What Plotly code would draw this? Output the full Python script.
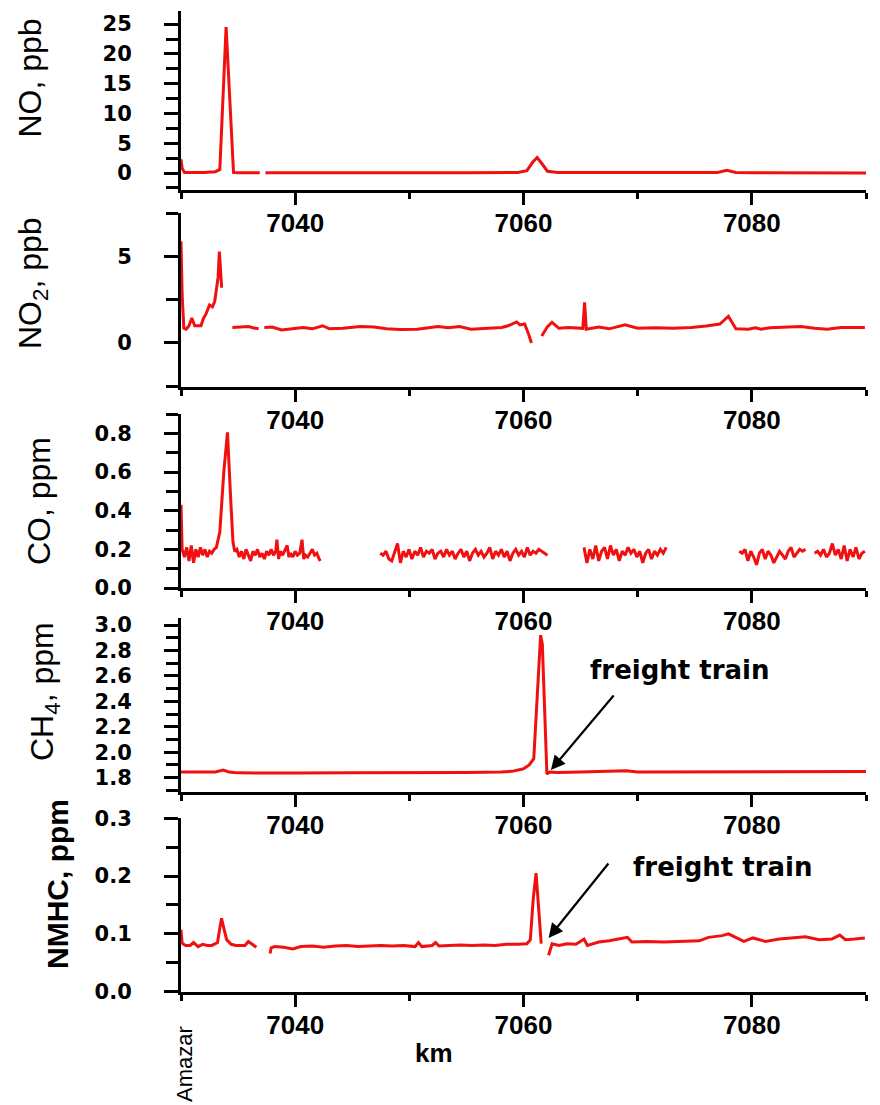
import numpy as np
import plotly.graph_objects as go

W, H = 880, 1105

# ---------------- data (km along the railway) ----------------
# NO, ppb
no_km_a = [7030.0, 7030.1, 7030.3, 7031.0, 7032.0, 7033.0, 7033.4, 7033.95, 7034.6, 7035.0, 7036.0, 7036.9]
no_val_a = [2.3, 0.8, 0.1, 0.05, 0.1, 0.2, 0.6, 24.5, 0.1, 0.05, 0.05, 0.05]
no_km_b = [7037.4, 7045.0, 7055.0, 7059.5, 7060.3, 7060.8, 7061.2, 7061.6, 7062.1, 7063.0,
           7070.0, 7077.0, 7077.8, 7078.6, 7080.0, 7090.0]
no_val_b = [0.05, 0.0, 0.05, 0.1, 0.4, 1.8, 2.6, 1.6, 0.3, 0.1, 0.05, 0.1, 0.45, 0.1, 0.05, 0.02]

# NO2, ppb
no2_km_a = [7030.0, 7030.1, 7030.25, 7030.45, 7030.7, 7030.95, 7031.2, 7031.5, 7031.75, 7031.95,
            7032.2, 7032.5, 7032.75, 7032.95, 7033.1, 7033.25, 7033.36, 7033.42, 7033.56]
no2_val_a = [5.9, 2.8, 0.85, 0.8, 1.0, 1.45, 1.0, 1.0, 1.0, 1.4,
             1.7, 2.2, 2.1, 2.4, 3.1, 3.8, 5.3, 4.4, 3.2]
no2_km_b = [7034.5, 7035.0, 7035.5, 7035.9, 7036.3, 7036.8]
no2_val_b = [0.9, 0.92, 0.9, 0.95, 0.88, 0.82]
no2_km_c = [7037.3, 7038.0, 7038.8, 7039.5, 7040.7, 7041.5, 7042.4, 7043.0, 7044.2, 7045.7,
            7046.9, 7048.0, 7049.2, 7050.7, 7051.5, 7052.5, 7053.4, 7054.4, 7055.4, 7056.9,
            7058.1, 7058.65, 7059.4, 7059.7, 7060.1, 7060.4, 7060.7]
no2_val_c = [0.9, 0.92, 0.75, 0.82, 0.9, 0.82, 1.0, 0.82, 0.85, 0.95,
             0.92, 0.82, 0.78, 0.8, 0.85, 0.95, 0.88, 0.95, 0.8, 0.85,
             0.9, 1.0, 1.22, 1.05, 1.1, 0.6, 0.0]
no2_km_d = [7061.6, 7062.1, 7062.5, 7063.1, 7063.9, 7064.8, 7065.2, 7065.35, 7065.5, 7066.6,
            7067.5, 7068.9, 7070.0, 7071.6, 7073.1, 7074.7, 7076.0, 7077.2, 7077.95, 7078.6,
            7079.7, 7080.3, 7080.8, 7081.6, 7083.2, 7084.3, 7085.5, 7086.6, 7087.8, 7089.0, 7089.9]
no2_val_d = [0.4, 0.95, 1.2, 0.85, 0.9, 0.85, 0.85, 2.35, 0.8, 0.92,
             0.82, 1.05, 0.85, 0.88, 0.85, 0.9, 0.98, 1.1, 1.55, 0.82,
             0.8, 0.88, 0.8, 0.88, 0.9, 0.95, 0.85, 0.8, 0.9, 0.88, 0.9]

# CO, ppm
co_km_1 = [7030.0, 7030.1, 7030.3, 7030.5, 7030.7, 7030.9, 7031.1, 7031.3, 7031.5, 7031.7,
           7031.9, 7032.1, 7032.3, 7032.5, 7032.7, 7032.9, 7033.1, 7033.4, 7033.75, 7034.07,
           7034.36, 7034.55, 7034.7, 7034.9, 7035.1, 7035.3, 7035.5, 7035.7, 7035.9, 7036.1,
           7036.3, 7036.5, 7036.7, 7036.9, 7037.1, 7037.3, 7037.5, 7037.7, 7037.9, 7038.1,
           7038.3, 7038.4, 7038.55, 7038.7, 7038.9, 7039.1, 7039.3, 7039.45, 7039.6, 7039.8,
           7040.0, 7040.2, 7040.4, 7040.6, 7040.75, 7040.9, 7041.1, 7041.3, 7041.5, 7041.7,
           7041.9, 7042.1, 7042.2]
co_val_1 = [0.43, 0.2, 0.16, 0.21, 0.14, 0.22, 0.13, 0.2, 0.16, 0.21,
            0.17, 0.2, 0.16, 0.19, 0.18, 0.2, 0.21, 0.29, 0.6, 0.805,
            0.45, 0.24, 0.19, 0.2, 0.16, 0.19, 0.15, 0.2, 0.17, 0.14,
            0.19, 0.17, 0.2, 0.16, 0.18, 0.15, 0.19, 0.17, 0.2, 0.17,
            0.19, 0.25, 0.15, 0.19, 0.17, 0.2, 0.22, 0.16, 0.18, 0.16,
            0.19, 0.17, 0.18, 0.25, 0.15, 0.17, 0.16, 0.18, 0.2, 0.17,
            0.18, 0.15, 0.14]
co_seg2_span = (7047.45, 7062.1)
co_val_2 = [0.18, 0.17, 0.19, 0.15, 0.14, 0.18, 0.23, 0.13, 0.19, 0.16,
            0.2, 0.15, 0.19, 0.17, 0.21, 0.16, 0.19, 0.18, 0.2, 0.15,
            0.18, 0.19, 0.16, 0.2, 0.17, 0.19, 0.15, 0.18, 0.2, 0.16,
            0.19, 0.14, 0.18, 0.2, 0.17, 0.19, 0.16, 0.18, 0.21, 0.15,
            0.19, 0.17, 0.2, 0.16, 0.19, 0.14, 0.18, 0.2, 0.17, 0.19,
            0.16, 0.21, 0.17, 0.19, 0.18, 0.2, 0.19, 0.18, 0.17]
co_seg3_span = (7065.3, 7072.5)
co_val_3 = [0.21, 0.13, 0.2, 0.15, 0.22, 0.14, 0.19, 0.21, 0.15, 0.22,
            0.17, 0.2, 0.14, 0.19, 0.17, 0.21, 0.18, 0.2, 0.16, 0.19,
            0.13, 0.18, 0.2, 0.15, 0.19, 0.17, 0.2, 0.18, 0.21]
co_seg4_span = (7078.9, 7084.7)
co_val_4 = [0.19, 0.18, 0.2, 0.14, 0.19, 0.16, 0.12, 0.18, 0.2, 0.15,
            0.19, 0.17, 0.13, 0.16, 0.19, 0.17, 0.15, 0.19, 0.21, 0.16,
            0.18, 0.2, 0.19, 0.2]
co_seg5_span = (7085.5, 7089.9)
co_val_5 = [0.18, 0.19, 0.17, 0.2, 0.16, 0.18, 0.23, 0.17, 0.2, 0.15,
            0.22, 0.14, 0.2, 0.16, 0.21, 0.15, 0.18, 0.19]

# CH4, ppm
ch4_km = [7030.0, 7031.0, 7032.0, 7033.0, 7033.7, 7034.2, 7035.0, 7037.0, 7040.0, 7045.0,
          7050.0, 7055.0, 7058.0, 7059.0, 7060.0, 7060.5, 7060.9, 7061.3, 7061.5, 7061.65,
          7061.85, 7062.05, 7062.3, 7063.0, 7065.0, 7069.0, 7070.0, 7075.0, 7080.0, 7085.0, 7090.0]
ch4_val = [1.845, 1.845, 1.842, 1.845, 1.86, 1.845, 1.838, 1.835, 1.836, 1.838,
           1.837, 1.84, 1.845, 1.85, 1.87, 1.9, 1.95, 2.6, 2.92, 2.85,
           2.3, 1.83, 1.845, 1.84, 1.845, 1.855, 1.845, 1.845, 1.848, 1.848, 1.848]

# NMHC, ppm
nmhc_km_1 = [7030.0, 7030.1, 7030.4, 7030.8, 7031.1, 7031.5, 7031.9, 7032.3, 7032.7, 7033.2,
             7033.4, 7033.55, 7033.75, 7034.0, 7034.4, 7034.8, 7035.3, 7035.6, 7035.9, 7036.2, 7036.6]
nmhc_val_1 = [0.107, 0.084, 0.08, 0.08, 0.085, 0.078, 0.082, 0.08, 0.08, 0.085,
              0.11, 0.127, 0.11, 0.09, 0.082, 0.08, 0.08, 0.08, 0.087, 0.083, 0.077]
nmhc_km_2 = [7037.8, 7037.9, 7038.2, 7039.0, 7039.8, 7040.5, 7041.5, 7042.5, 7043.5, 7044.5,
             7045.5, 7046.5, 7047.5, 7048.5, 7049.5, 7050.5, 7050.8, 7051.1, 7052.0, 7052.3,
             7052.6, 7053.5, 7054.5, 7055.5, 7056.5, 7057.5, 7058.5, 7059.5, 7060.3, 7060.6,
             7060.85, 7061.1, 7061.3, 7061.55]
nmhc_val_2 = [0.066, 0.076, 0.078, 0.077, 0.074, 0.078, 0.079, 0.077, 0.079, 0.08,
              0.078, 0.079, 0.08, 0.079, 0.08, 0.078, 0.085, 0.078, 0.08, 0.085,
              0.079, 0.08, 0.081, 0.08, 0.081, 0.08, 0.082, 0.082, 0.083, 0.09,
              0.16, 0.205, 0.15, 0.083]
nmhc_km_3 = [7062.2, 7062.5, 7063.1, 7063.8, 7064.6, 7065.3, 7065.6, 7066.6, 7067.5, 7069.1,
             7069.5, 7070.8, 7072.3, 7073.9, 7075.4, 7076.2, 7077.4, 7077.95, 7078.5, 7079.3,
             7080.1, 7081.2, 7082.4, 7083.9, 7084.7, 7085.9, 7087.0, 7087.7, 7088.2, 7089.0, 7089.9]
nmhc_val_3 = [0.063, 0.083, 0.08, 0.083, 0.082, 0.091, 0.08, 0.086, 0.088, 0.094,
              0.086, 0.087, 0.086, 0.087, 0.088, 0.094, 0.097, 0.1, 0.095, 0.087,
              0.093, 0.087, 0.091, 0.094, 0.095, 0.09, 0.091, 0.098, 0.09, 0.091, 0.093]

x_tickvals = [7040, 7060, 7080]
x_range = [7030, 7090]

RED = "#f01010"


def join(segments):
    xs, ys = [], []
    for i, (sx, sy) in enumerate(segments):
        if i:
            xs.append(None)
            ys.append(None)
        xs.extend(list(sx))
        ys.extend(list(sy))
    return xs, ys


def span(s, vals):
    return np.linspace(s[0], s[1], len(vals)).tolist()


series = [
    join([(no_km_a, no_val_a), (no_km_b, no_val_b)]),
    join([(no2_km_a, no2_val_a), (no2_km_b, no2_val_b), (no2_km_c, no2_val_c), (no2_km_d, no2_val_d)]),
    join([(co_km_1, co_val_1), (span(co_seg2_span, co_val_2), co_val_2),
          (span(co_seg3_span, co_val_3), co_val_3), (span(co_seg4_span, co_val_4), co_val_4),
          (span(co_seg5_span, co_val_5), co_val_5)]),
    join([(ch4_km, ch4_val)]),
    join([(nmhc_km_1, nmhc_val_1), (nmhc_km_2, nmhc_val_2), (nmhc_km_3, nmhc_val_3)]),
]

fig = go.Figure()
for i, (xs, ys) in enumerate(series, start=1):
    fig.add_trace(go.Scatter(x=xs, y=ys, mode="lines", xaxis=f"x{i}", yaxis=f"y{i}",
                             line=dict(color=RED, width=3), connectgaps=False,
                             showlegend=False, hoverinfo="skip"))

# panel pixel extents (top, bottom) of each plot area
panels_px = [(11, 190), (212.7, 387), (414, 588), (618, 791.7), (818, 991.7)]
x_px = (181, 866)

y_specs = [
    dict(range=[-2.85, 27.2], dtick=5, tick0=0, minor=2.5, fmt=None),
    dict(range=[-2.55, 7.55], dtick=5, tick0=0, minor=2.5, fmt=None),
    dict(range=[0, 0.9], dtick=0.2, tick0=0, minor=0.1, fmt=".1f"),
    dict(range=[1.69, 3.055], dtick=0.2, tick0=1.8, minor=0.1, fmt=".1f"),
    dict(range=[0, 0.3005], dtick=0.1, tick0=0, minor=0.05, fmt=".1f"),
]

tick_font_y = dict(family="DejaVu Sans", size=21, color="black", weight="bold")
tick_font_x = dict(family="Liberation Sans, Arial", size=26, color="black", weight="bold")

layout = dict(width=W, height=H, margin=dict(l=0, r=0, t=0, b=0),
              paper_bgcolor="white", plot_bgcolor="white", template="none",
              showlegend=False)

for i, (top, bot) in enumerate(panels_px, start=1):
    spec = y_specs[i - 1]
    sfx = "" if i == 1 else str(i)
    layout[f"xaxis{sfx}"] = dict(
        domain=[x_px[0] / W, x_px[1] / W], anchor=f"y{i}", range=x_range,
        tickmode="array", tickvals=x_tickvals, ticks="outside", ticklen=12, tickwidth=3,
        tickcolor="black", showline=True, linewidth=3, linecolor="black",
        showgrid=False, zeroline=False, tickfont=tick_font_x, ticklabelstandoff=-4,
        minor=dict(tickmode="linear", tick0=7030, dtick=10, ticks="outside", ticklen=6,
                   tickwidth=3, tickcolor="black", showgrid=False),
        automargin=False, layer="below traces", fixedrange=True,
    )
    ya = dict(
        domain=[1 - bot / H, 1 - top / H], anchor=f"x{i}", range=spec["range"],
        tickmode="linear", tick0=spec["tick0"], dtick=spec["dtick"], ticks="outside",
        ticklen=14, tickwidth=3, tickcolor="black", showline=True, linewidth=3,
        linecolor="black", showgrid=False, zeroline=False, tickfont=tick_font_y,
        ticklabelstandoff=28,
        minor=dict(tickmode="linear", tick0=0, dtick=spec["minor"], ticks="outside",
                   ticklen=12, tickwidth=3, tickcolor="black", showgrid=False),
        automargin=False, layer="below traces", fixedrange=True,
    )
    if spec["fmt"]:
        ya["tickformat"] = spec["fmt"]
    layout[f"yaxis{sfx}"] = ya

fig.update_layout(**layout)

title_font = dict(family="Liberation Sans, Arial", size=31, color="black")
titles = [
    ("NO, ppb", 30, 77.5, False),
    ("NO<sub>2</sub>, ppb", 32, 283, False),
    ("CO, ppm", 39, 501, False),
    ("CH<sub>4</sub>, ppm", 44, 692, False),
    ("<b>NMHC, ppm</b>", 57, 884, True),
]
for text, cx, cy, bold in titles:
    fig.add_annotation(text=text, x=cx / W, y=1 - cy / H, xref="paper", yref="paper",
                       xanchor="center", yanchor="middle", textangle=-90, showarrow=False,
                       font=dict(title_font, size=30 if bold else 32))

ann_font = dict(family="DejaVu Sans", size=26, color="black", weight="bold")
# freight train labels
fig.add_annotation(text="freight train", x=7073.7, y=2.647, xref="x4", yref="y4",
                   showarrow=False, font=ann_font, xanchor="center", yanchor="middle")
fig.add_annotation(text="freight train", x=7077.5, y=0.2166, xref="x5", yref="y5",
                   showarrow=False, font=ann_font, xanchor="center", yanchor="middle")
# arrows
fig.add_annotation(text="", x=7062.4, y=1.86, xref="x4", yref="y4", showarrow=True,
                   ax=64, ay=-76, axref="pixel", ayref="pixel", arrowhead=2,
                   arrowsize=1.3, arrowwidth=2.2, arrowcolor="black", standoff=0)
fig.add_annotation(text="", x=7062.2, y=0.093, xref="x5", yref="y5", showarrow=True,
                   ax=61, ay=-76, axref="pixel", ayref="pixel", arrowhead=2,
                   arrowsize=1.3, arrowwidth=2.2, arrowcolor="black", standoff=0)

fig.add_annotation(text="<b>km</b>", x=434 / W, y=1 - 1053 / H, xref="paper", yref="paper",
                   showarrow=False, xanchor="center", yanchor="middle",
                   font=dict(family="Liberation Sans, Arial", size=26, color="black"))
fig.add_annotation(text="Amazar", x=184 / W, y=1 - 1064 / H, xref="paper", yref="paper",
                   showarrow=False, xanchor="center", yanchor="middle", textangle=-90,
                   font=dict(family="Liberation Sans, Arial", size=22, color="black"))

fig.write_html("out.html", config={"displayModeBar": False},
               post_script="document.body.style.margin='0';document.body.style.padding='0';")
